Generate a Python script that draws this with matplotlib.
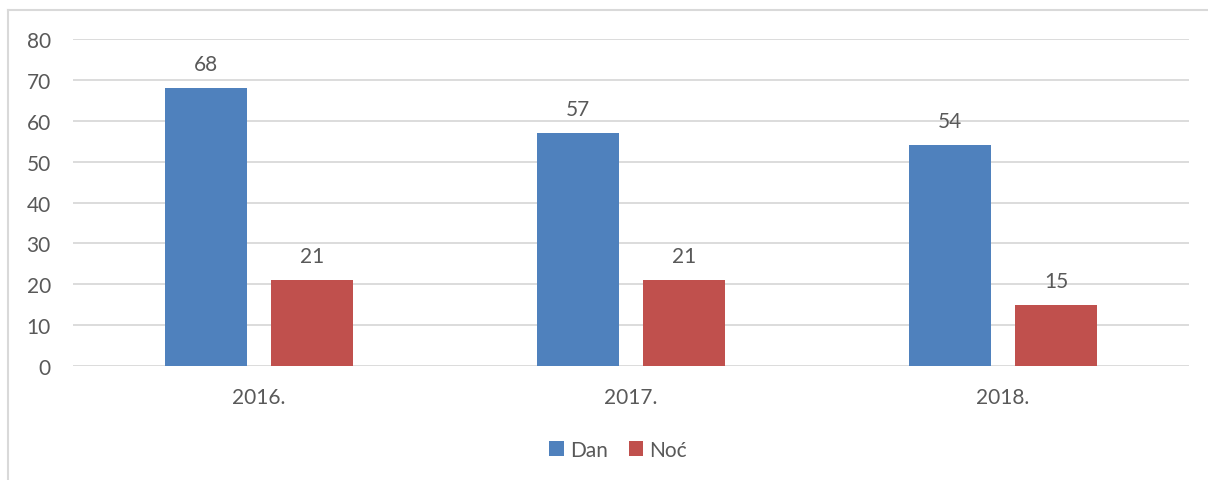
import matplotlib
matplotlib.use("Agg")
import matplotlib.pyplot as plt
from matplotlib.patches import Patch
from matplotlib.lines import Line2D
import numpy as np

plt.rcParams['font.family'] = ['Lato', 'DejaVu Sans']

categories = ["2016.", "2017.", "2018."]
series_names = ["Dan", "Noć"]
dan = [68, 57, 54]
noc = [21, 21, 15]
colors = ["#4F81BD", "#C0504D"]
text_color = "#595959"
grid_color = "#D9D9D9"
fs = 15

fig = plt.figure(figsize=(12.08, 4.81), dpi=100)
ax = fig.add_axes([73/1208, 1-367/481, (1189-73)/1208, (367-40)/481])

x = np.arange(len(categories))
width = 0.22
offset = 0.1425
for vals, off, c in zip([dan, noc], [-offset, offset], colors):
    b = ax.bar(x + off, vals, width, color=c, zorder=3)
    for rect, v in zip(b, vals):
        ax.annotate(str(v), (rect.get_x() + rect.get_width()/2, rect.get_height()),
                    xytext=(0, 10), textcoords="offset points",
                    ha="center", va="bottom", fontsize=fs, color=text_color)

ax.set_xlim(-0.5, len(categories) - 0.5)
ax.set_ylim(0, 80)
ax.set_yticks(range(0, 81, 10))
ax.set_xticks(x)
ax.set_xticklabels(categories)
ax.tick_params(axis='both', length=0, labelsize=fs, labelcolor=text_color)
ax.tick_params(axis='y', pad=16)
ax.tick_params(axis='x', pad=15)
ax.yaxis.grid(True, color=grid_color, linewidth=1.3, zorder=0)
for s in ax.spines.values():
    s.set_visible(False)

handles = [Patch(facecolor=c, edgecolor='none') for c in colors]
fig.legend(handles, series_names, loc='center', bbox_to_anchor=(618/1208, 1-451/481),
           ncol=2, frameon=False, fontsize=fs, handlelength=0.7, handleheight=0.7,
           handletextpad=0.3, columnspacing=1.0, labelcolor=text_color)

# outer chart border (left and top)
fig.add_artist(Line2D([8/1208, 8/1208], [0, 1-11/481], transform=fig.transFigure, color=grid_color, linewidth=1.5))
fig.add_artist(Line2D([8/1208, 1], [1-11/481, 1-11/481], transform=fig.transFigure, color=grid_color, linewidth=1.5))

fig.savefig("out.png", dpi=100, facecolor="white")
